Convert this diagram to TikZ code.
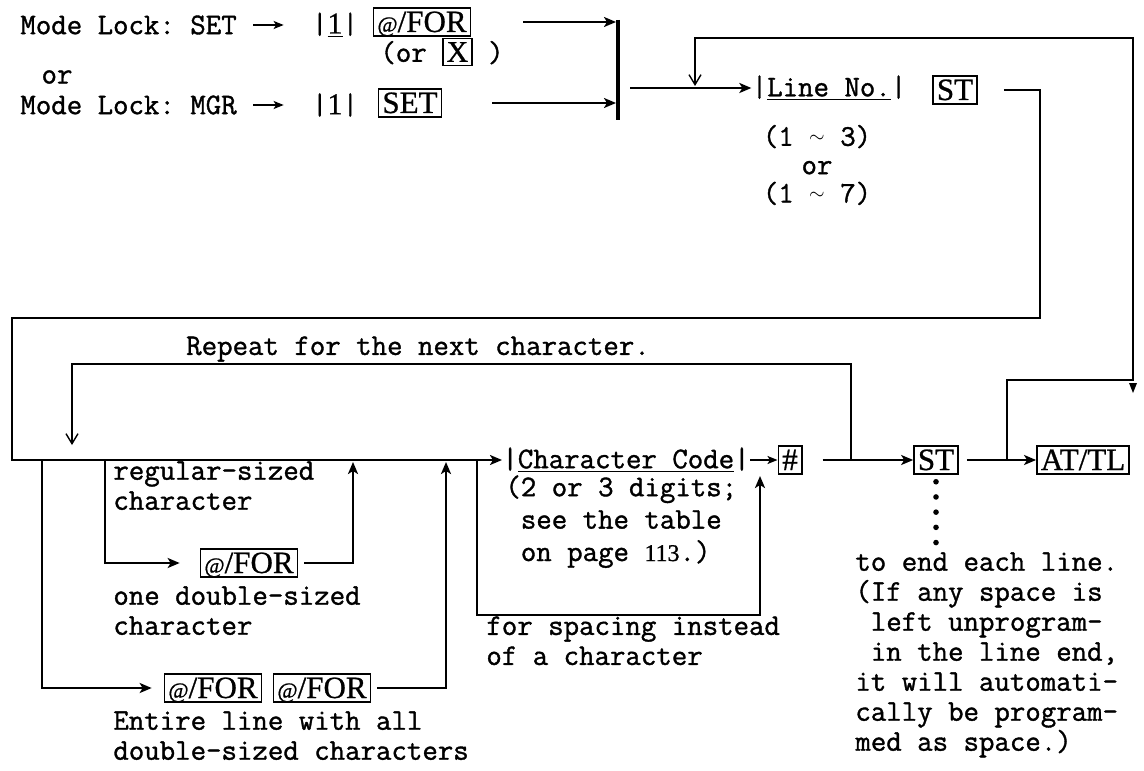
\documentclass[tikz,border=0pt]{standalone}
\usepackage{fontspec}
\setmonofont[FakeBold=1.2]{Latin Modern Mono}
\newfontfamily\keyfont[FakeBold=0.8]{Liberation Serif}
\usetikzlibrary{arrows.meta, positioning}
\newcommand{\keyin}[1]{{\setlength{\fboxsep}{1.5pt}\setlength{\fboxrule}{0.7pt}\fbox{\keyfont #1}}}
\newcommand{\atkey}{{\fontsize{11}{11}\selectfont @}}
\newcommand{\tld}{\raisebox{0.25ex}{\fontsize{10}{10}\selectfont$\sim$}}

\begin{document}
\begin{tikzpicture}[x=0.5pt, y=-0.5pt,
  txt/.style={inner sep=0pt, font=\ttfamily\fontsize{15}{15}\selectfont, align=left},
  key/.style={draw, line width=0.75pt, inner xsep=2pt, inner ysep=0.6pt,
    text height=11.4pt, text depth=1.4pt, font=\keyfont\fontsize{15.5}{15.5}\selectfont},
  field/.style={inner xsep=0pt, inner ysep=1pt, font=\ttfamily\fontsize{15}{15}\selectfont},
  flow/.style={line width=1.3pt, -{Stealth[length=6pt, width=5pt, inset=1.5pt]}},
  arr/.style={line width=0.8pt, -{Stealth[length=5pt, width=4pt, inset=1.2pt]}},
  back/.style={line width=0.7pt, -{Straight Barb[length=5pt, width=6pt]}}]

\useasboundingbox (0,0) rectangle (1144,770);

% entry
\node[txt, anchor=west] (mlset) at (20,25) {Mode Lock: SET};
\node[field] (one1) at (335,25) {|{\keyfont\underline{1}}|};
\node[key] (for1) at (422,22) {\atkey/FOR};
\node[txt, anchor=west] (orx) at (380,52) {(or \keyin{X} )};
\node[txt] (or) at (57,77) {or};
\node[txt, anchor=west] (mlmgr) at (20,105) {Mode Lock: MGR};
\node[field] (one2) at (335,105) {|{\keyfont 1}|};
\node[key] (setk) at (410,103) {SET};

\coordinate (bartop) at (618,20);
\coordinate (barbot) at (618,120);
\draw[line width=2pt] (bartop) -- (barbot);

\draw[arr, shorten <=8pt, shorten >=14pt] (mlset.east) -- (one1.west);
\draw[arr, shorten <=8pt, shorten >=14pt] (mlmgr.east) -- (one2.west);
\draw[flow, shorten <=26pt, shorten >=1pt] (for1.east) -- (for1.east -| bartop);
\draw[flow, shorten <=25pt, shorten >=1pt] (setk.east) -- (setk.east -| bartop);

% line number
\node[field] (lineno) at (829,88) {|\underline{Line No.}|};
\node[txt, align=center, font=\ttfamily\fontsize{15}{14.2}\selectfont] (range) at (817,165)
  {(1 \tld{} 3)\\or\\(1 \tld{} 7)};
\node[key] (st1) at (955,90) {ST};
\coordinate (jn0) at (618,88);
\draw[flow, shorten <=6pt] (jn0) -- (lineno.west);

% main line
\node[field] (ccode) at (626,460) {|\underline{Character Code}|};
\node[key] (hash) at (790,460) {\#};
\node[key] (st2) at (936,460) {ST};
\node[key] (attl) at (1083,460) {AT/TL};

\coordinate (bend1) at (1040,318);
\coordinate (bend2) at (12,460);
\draw[flow, shorten <=13pt] (st1.east) -| (bend1) -| (bend2) -- (ccode.west);
\draw[arr] (ccode.east) -- (hash.west);
\draw[flow, shorten <=10pt] (hash.east) -- (st2.west);
\draw[flow, shorten <=4pt] (st2.east) -- (attl.west);

\foreach \k in {0,...,4}
  \fill ([yshift={-3.5pt-7.6pt*\k}]st2.south) circle (1.4pt);

% next line
\coordinate (rt1) at (1007,460);
\coordinate (rt2) at (1133,380);
\coordinate (rt3) at (695,38);
\coordinate (lnin) at (695,86);
\draw[back] (rt1) |- (rt2) |- (rt3) -- (lnin);
\fill (1129,383) -- (1137,383) -- (1133,393) -- cycle;

% repeat
\coordinate (rp1) at (851,460);
\coordinate (rptop) at (851,364);
\coordinate (rpend) at (72,445);
\draw[back] (rp1) -- (rptop) -| (rpend);
\node[txt] (rptxt) at (418,349) {Repeat for the next character.};

% character size
\coordinate (br1) at (42,460);
\coordinate (br2) at (105,460);
\coordinate (jn1) at (353,460);
\coordinate (jn2) at (446,460);
\node[key] (dbl1) at (249,563) {\atkey/FOR};
\node[key] (dbl2a) at (213,688) {\atkey/FOR};
\node[key] (dbl2b) at (322,688) {\atkey/FOR};
\draw[flow, shorten >=10pt] (br2) |- (dbl1.west);
\draw[flow, shorten <=3pt, shorten >=1pt] (dbl1.east) -| (jn1);
\draw[flow, shorten >=6pt] (br1) |- (dbl2a.west);
\draw[flow, shorten <=3pt, shorten >=1pt] (dbl2b.east) -| (jn2);

\node[txt, anchor=north west] (regular) at (113,461) {regular-sized\\character};
\node[txt, anchor=north west] (double) at (113,586) {one double-sized\\character};
\node[txt, anchor=north west] (entire) at (113,711) {Entire line with all\\double-sized characters};

% spacing
\coordinate (br3) at (477,460);
\coordinate (cbot) at (477,615);
\coordinate (cup) at (760,476);
\draw[flow] (br3) -- (cbot) -| (cup);
\node[txt, anchor=north west, font=\ttfamily\fontsize{15}{16.2}\selectfont] (ccinfo) at (505,475)
  {(2 or 3 digits;\\\phantom{(}see the table\\\phantom{(}on page {\keyfont\fontsize{12}{12}\selectfont 113}.)};
\node[txt, anchor=north west] (spacing) at (486,616) {for spacing instead\\of a character};

\node[txt, anchor=north west] (endtxt) at (855,552)
  {to end each line.\\(If any space is\\\phantom{(}left unprogram-\\\phantom{(}in the line end,\\it will automati-\\cally be program-\\med as space.)};
\end{tikzpicture}
\end{document}
